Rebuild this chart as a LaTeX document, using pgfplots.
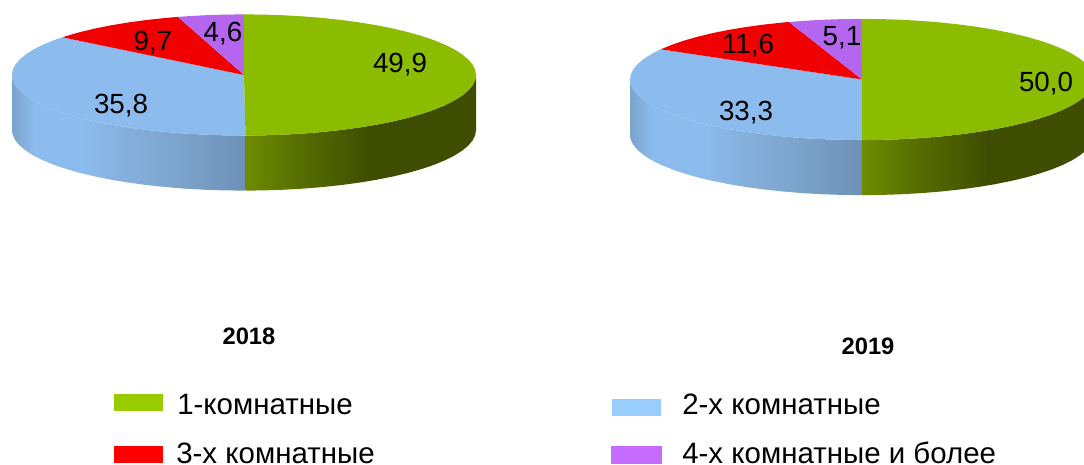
\documentclass[border=0pt]{standalone}
\usepackage{pgfplots}
\pgfplotsset{compat=1.18}
\usepackage{fontspec}
\setmainfont{Liberation Sans}
\definecolor{topgreen}{HTML}{8CBC00}
\definecolor{topblue}{HTML}{8CBCEE}
\definecolor{topred}{HTML}{F00000}
\definecolor{toppurple}{HTML}{B466EE}
\definecolor{leggreen}{HTML}{99CC00}
\definecolor{legblue}{HTML}{99CCFF}
\definecolor{legred}{HTML}{FF0000}
\definecolor{legpurple}{HTML}{C56CFF}
\definecolor{w1}{HTML}{7BA3CC}
\definecolor{w2}{HTML}{8CBCEE}
\definecolor{w3}{HTML}{84AFDB}
\definecolor{w4}{HTML}{7DA5CE}
\definecolor{w5}{HTML}{6E90B5}
\definecolor{g1}{HTML}{6E8B00}
\definecolor{g2}{HTML}{556B00}
\definecolor{g3}{HTML}{3F4D00}
\pgfdeclarehorizontalshading{bluewall}{100bp}{color(0bp)=(w1); color(25bp)=(w1); color(30bp)=(w2); color(40bp)=(w2); color(50bp)=(w3); color(60bp)=(w4); color(75bp)=(w5); color(100bp)=(w5)}
\pgfdeclarehorizontalshading{greenwall}{100bp}{color(0bp)=(g1); color(25bp)=(g1); color(38bp)=(g2); color(52bp)=(g3); color(75bp)=(g3); color(100bp)=(g3)}
\pgfplotsset{page/.style={scale only axis,width=813pt,height=348pt,hide axis,clip=true}}
\begin{document}
\begin{tikzpicture}
\useasboundingbox (0,0) rectangle (813pt,348pt);
% 2018
\begin{axis}[page,at={(0,0)},xmin=-244,xmax=840,ymin=-388.5,ymax=75.5]
\addplot[draw=none,shade,shading=bluewall] coordinates {(-232,0)(-231.12,-5.27)(-228.48,-10.51)(-224.10,-15.66)(-218.01,-20.69)(-210.26,-25.57)(-200.92,-30.25)(-190.04,-34.70)(-177.72,-38.89)(-164.05,-42.78)(-149.13,-46.35)(-133.07,-49.56)(-116,-52.39)(-98.05,-54.83)(-79.35,-56.85)(-60.05,-58.44)(-40.29,-59.58)(-20.22,-60.27)(1.5,-60.5)(1.5,-115.5)(-20.22,-115.27)(-40.29,-114.58)(-60.05,-113.44)(-79.35,-111.85)(-98.05,-109.83)(-116,-107.39)(-133.07,-104.56)(-149.13,-101.35)(-164.05,-97.78)(-177.72,-93.89)(-190.04,-89.70)(-200.92,-85.25)(-210.26,-80.57)(-218.01,-75.69)(-224.10,-70.66)(-228.48,-65.51)(-231.12,-60.27)(-232,-55)};
\addplot[draw=none,shade,shading=greenwall] coordinates {(1.5,-60.5)(20.22,-60.27)(40.29,-59.58)(60.05,-58.44)(79.35,-56.85)(98.05,-54.83)(116,-52.39)(133.07,-49.56)(149.13,-46.35)(164.05,-42.78)(177.72,-38.89)(190.04,-34.70)(200.92,-30.25)(210.26,-25.57)(218.01,-20.69)(224.10,-15.66)(228.48,-10.51)(231.12,-5.27)(232,0)(232,-55)(231.12,-60.27)(228.48,-65.51)(224.10,-70.66)(218.01,-75.69)(210.26,-80.57)(200.92,-85.25)(190.04,-89.70)(177.72,-93.89)(164.05,-97.78)(149.13,-101.35)(133.07,-104.56)(116,-107.39)(98.05,-109.83)(79.35,-111.85)(60.05,-113.44)(40.29,-114.58)(20.22,-115.27)(1.5,-115.5)};
\addplot[draw=none,fill=topblue] coordinates {(0,0)(1.5,-60.5)(-20.22,-60.27)(-40.29,-59.58)(-60.05,-58.44)(-79.35,-56.85)(-98.05,-54.83)(-116,-52.39)(-133.07,-49.56)(-149.13,-46.35)(-164.05,-42.78)(-177.72,-38.89)(-190.04,-34.70)(-200.92,-30.25)(-210.26,-25.57)(-218.01,-20.69)(-224.10,-15.66)(-228.48,-10.51)(-231.12,-5.27)(-232,0)(-231.12,5.27)(-228.48,10.51)(-224.10,15.66)(-218.01,20.69)(-210.26,25.57)(-200.92,30.25)(-190.04,34.70)(-181.6,37.66)};
\addplot[draw=none,fill=topred] coordinates {(0,0)(-181.6,37.66)(-177.72,38.89)(-164.05,42.78)(-149.13,46.35)(-133.07,49.56)(-116,52.39)(-98.05,54.83)(-79.35,56.85)(-66.1,57.99)};
\addplot[draw=none,fill=toppurple] coordinates {(0,0)(-66.1,57.99)(-60.05,58.44)(-40.29,59.58)(-20.22,60.27)(0,60.5)};
\addplot[draw=none,fill=topgreen] coordinates {(0,0)(0,60.5)(20.22,60.27)(40.29,59.58)(60.05,58.44)(79.35,56.85)(98.05,54.83)(116,52.39)(133.07,49.56)(149.13,46.35)(164.05,42.78)(177.72,38.89)(190.04,34.70)(200.92,30.25)(210.26,25.57)(218.01,20.69)(224.10,15.66)(228.48,10.51)(231.12,5.27)(232,0)(231.12,-5.27)(228.48,-10.51)(224.10,-15.66)(218.01,-20.69)(210.26,-25.57)(200.92,-30.25)(190.04,-34.70)(177.72,-38.89)(164.05,-42.78)(149.13,-46.35)(133.07,-49.56)(116,-52.39)(98.05,-54.83)(79.35,-56.85)(60.05,-58.44)(40.29,-59.58)(20.22,-60.27)(1.5,-60.5)};
\end{axis}
% 2019
\begin{axis}[page,at={(0,0)},xmin=-862,xmax=222,ymin=-384,ymax=80]
\addplot[draw=none,shade,shading=bluewall] coordinates {(-232,0)(-231.12,-5.27)(-228.48,-10.51)(-224.10,-15.66)(-218.01,-20.69)(-210.26,-25.57)(-200.92,-30.25)(-190.04,-34.70)(-177.72,-38.89)(-164.05,-42.78)(-149.13,-46.35)(-133.07,-49.56)(-116,-52.39)(-98.05,-54.83)(-79.35,-56.85)(-60.05,-58.44)(-40.29,-59.58)(-20.22,-60.27)(0,-60.5)(0,-115.5)(-20.22,-115.27)(-40.29,-114.58)(-60.05,-113.44)(-79.35,-111.85)(-98.05,-109.83)(-116,-107.39)(-133.07,-104.56)(-149.13,-101.35)(-164.05,-97.78)(-177.72,-93.89)(-190.04,-89.70)(-200.92,-85.25)(-210.26,-80.57)(-218.01,-75.69)(-224.10,-70.66)(-228.48,-65.51)(-231.12,-60.27)(-232,-55)};
\addplot[draw=none,shade,shading=greenwall] coordinates {(0,-60.5)(20.22,-60.27)(40.29,-59.58)(60.05,-58.44)(79.35,-56.85)(98.05,-54.83)(116,-52.39)(133.07,-49.56)(149.13,-46.35)(164.05,-42.78)(177.72,-38.89)(190.04,-34.70)(200.92,-30.25)(210.26,-25.57)(218.01,-20.69)(224.10,-15.66)(228.48,-10.51)(231.12,-5.27)(232,0)(232,-55)(231.12,-60.27)(228.48,-65.51)(224.10,-70.66)(218.01,-75.69)(210.26,-80.57)(200.92,-85.25)(190.04,-89.70)(177.72,-93.89)(164.05,-97.78)(149.13,-101.35)(133.07,-104.56)(116,-107.39)(98.05,-109.83)(79.35,-111.85)(60.05,-113.44)(40.29,-114.58)(20.22,-115.27)(0,-115.5)};
\addplot[draw=none,fill=topblue] coordinates {(0,0)(0,-60.5)(-20.22,-60.27)(-40.29,-59.58)(-60.05,-58.44)(-79.35,-56.85)(-98.05,-54.83)(-116,-52.39)(-133.07,-49.56)(-149.13,-46.35)(-164.05,-42.78)(-177.72,-38.89)(-190.04,-34.70)(-200.92,-30.25)(-210.26,-25.57)(-218.01,-20.69)(-224.10,-15.66)(-228.48,-10.51)(-231.12,-5.27)(-232,0)(-231.12,5.27)(-228.48,10.51)(-224.10,15.66)(-218.01,20.69)(-210.26,25.57)(-201.2,30.1)};
\addplot[draw=none,fill=topred] coordinates {(0,0)(-201.2,30.1)(-190.04,34.70)(-177.72,38.89)(-164.05,42.78)(-149.13,46.35)(-133.07,49.56)(-116,52.39)(-98.05,54.83)(-79.35,56.85)(-73.1,57.42)};
\addplot[draw=none,fill=toppurple] coordinates {(0,0)(-73.1,57.42)(-60.05,58.44)(-40.29,59.58)(-20.22,60.27)(0,60.5)};
\addplot[draw=none,fill=topgreen] coordinates {(0,0)(0,60.5)(20.22,60.27)(40.29,59.58)(60.05,58.44)(79.35,56.85)(98.05,54.83)(116,52.39)(133.07,49.56)(149.13,46.35)(164.05,42.78)(177.72,38.89)(190.04,34.70)(200.92,30.25)(210.26,25.57)(218.01,20.69)(224.10,15.66)(228.48,10.51)(231.12,5.27)(232,0)(231.12,-5.27)(228.48,-10.51)(224.10,-15.66)(218.01,-20.69)(210.26,-25.57)(200.92,-30.25)(190.04,-34.70)(177.72,-38.89)(164.05,-42.78)(149.13,-46.35)(133.07,-49.56)(116,-52.39)(98.05,-54.83)(79.35,-56.85)(60.05,-58.44)(40.29,-59.58)(20.22,-60.27)(0,-60.5)};
\end{axis}
% labels, titles and legend, in picture pixels
\begin{axis}[page,at={(0,0)},xmin=0,xmax=1084,ymin=0,ymax=464,y dir=reverse,clip=false]
\addplot[draw=none,fill=leggreen] coordinates {(114,394)(163,394)(163,411)(114,411)};
\addplot[draw=none,fill=legred] coordinates {(114,446)(163,446)(163,463)(114,463)};
\addplot[draw=none,fill=legblue] coordinates {(612,399)(661,399)(661,416)(612,416)};
\addplot[draw=none,fill=legpurple] coordinates {(611,446)(662,446)(662,464)(611,464)};
\tikzset{val/.style={anchor=base,inner sep=0pt,font=\fontsize{20.8pt}{22pt}\selectfont,text=black},
 tt/.style={anchor=base,inner sep=0pt,font=\fontsize{17.8pt}{20pt}\selectfont\bfseries,text=black},
 lg/.style={anchor=base west,inner sep=0pt,font=\fontsize{22.1pt}{24pt}\selectfont,text=black}}
\node[val] at (axis cs:400,73) {49,9};
\node[val] at (axis cs:153,51) {9,7};
\node[val] at (axis cs:223,42) {4,6};
\node[val] at (axis cs:121,114) {35,8};
\node[val] at (axis cs:1046,92) {50,0};
\node[val] at (axis cs:748,54) {11,6};
\node[val] at (axis cs:842,46) {5,1};
\node[val] at (axis cs:746,121) {33,3};
\node[tt] at (axis cs:249,345) {2018};
\node[tt] at (axis cs:868,355) {2019};
\node[lg] at (axis cs:177,415) {1-комнатные};
\node[lg] at (axis cs:176,463) {3-х комнатные};
\node[lg] at (axis cs:682,415) {2-х комнатные};
\node[lg] at (axis cs:682,463) {4-х комнатные и более};
\end{axis}
\end{tikzpicture}
\end{document}
